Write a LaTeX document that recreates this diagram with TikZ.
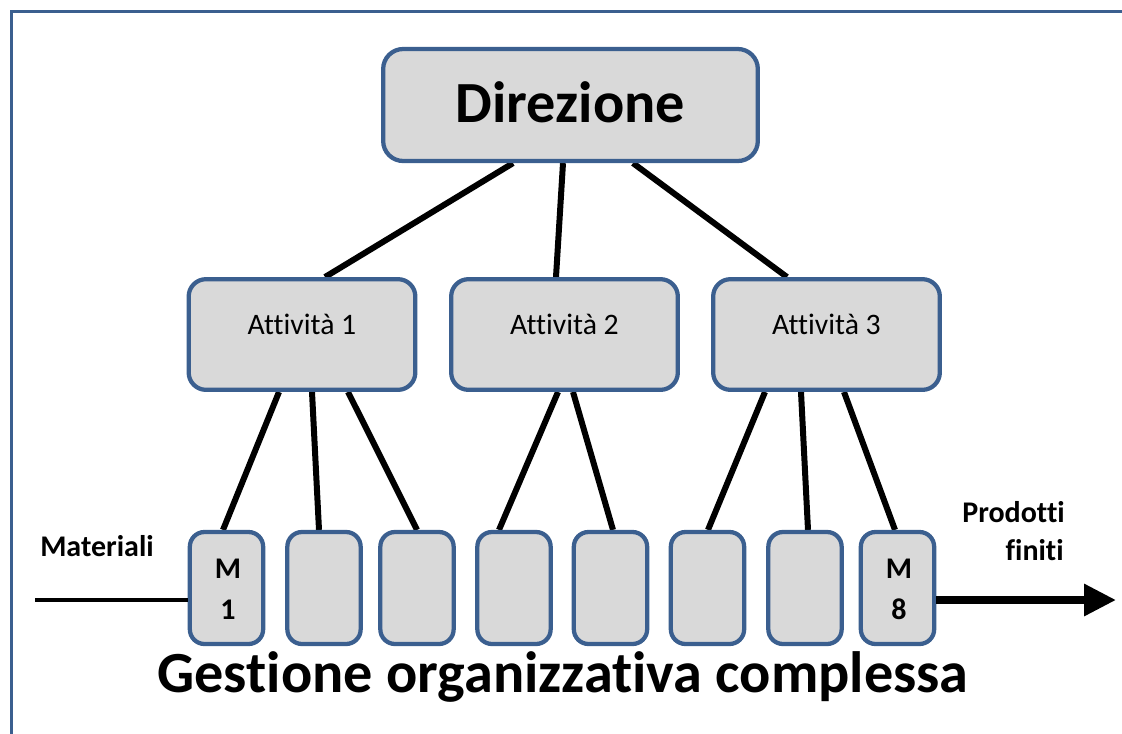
\documentclass[tikz,border=0pt]{standalone}
\usepackage{fontspec}
\setmainfont[Ligatures={NoCommon}]{Carlito}
\usetikzlibrary{calc,arrows.meta,backgrounds}

\definecolor{boxblue}{HTML}{3B5F8F}
\definecolor{boxgrey}{HTML}{D9D9D9}

\tikzset{
  unit/.style={rectangle, draw=boxblue, fill=boxgrey, line width=3.2pt, inner sep=0pt},
  topbox/.style={unit, rounded corners=15pt, minimum width=281pt, minimum height=84pt},
  midbox/.style={unit, rounded corners=13pt, minimum width=170pt, minimum height=83pt},
  cellbox/.style={unit, rounded corners=11pt, minimum width=55pt, minimum height=84pt},
  link/.style={black, line width=4.5pt},
  flowin/.style={black, line width=3pt},
  flowout/.style={black, line width=5.5pt, -{Triangle[length=24pt,width=23pt]}},
  txt/.style={inner sep=0pt, anchor=base},
  bigbold/.style={txt, font=\fontsize{43.7}{50}\selectfont\bfseries},
  midtext/.style={txt, font=\fontsize{22.3}{26}\selectfont},
  smallbold/.style={txt, font=\fontsize{22.5}{26}\selectfont\bfseries},
}

\begin{document}
\begin{tikzpicture}[x=0.75pt, y=-0.75pt]
  \useasboundingbox (0,0) rectangle (1122,733);
  \clip (0,0) rectangle (1122,733);

  % outer frame
  \draw[boxblue, line width=2.4pt] (11.5,760) -- (11.5,11.5) -- (1140,11.5);

  % boxes
  \node[topbox] (dir) at (570.5,105) {};
  \node[midbox] (a1) at (302,334.5) {};
  \node[midbox] (a2) at (564.5,334.5) {};
  \node[midbox] (a3) at (826.5,334.5) {};

  \foreach \n/\x in {1/226.5, 2/324, 3/417, 4/514, 5/610.5, 6/707.5, 7/805, 8/897.5}
    \node[cellbox] (b\n) at (\x,588) {};

  % connectors, behind the boxes
  \begin{scope}[on background layer]
    \draw[link] ($(dir.south)+(-57.5,0)$) -- ($(a1.north)+(23,0)$);
    \draw[link] ($(dir.south)+(-7.5,0)$)  -- ($(a2.north)+(-8.5,0)$);
    \draw[link] ($(dir.south)+(62.5,0)$)  -- ($(a3.north)+(-39.5,0)$);

    \draw[link] ($(a1.south)+(-23,0)$) -- ($(b1.north)+(-3.5,0)$);
    \draw[link] ($(a1.south)+(10,0)$)  -- ($(b2.north)+(-5,0)$);
    \draw[link] ($(a1.south)+(46,0)$)  -- ($(b3.north)+(0,0)$);

    \draw[link] ($(a2.south)+(-6.5,0)$) -- ($(b4.north)+(-15,0)$);
    \draw[link] ($(a2.south)+(8.5,0)$)  -- ($(b5.north)+(2.5,0)$);

    \draw[link] ($(a3.south)+(-61.5,0)$) -- ($(b6.north)+(0.5,0)$);
    \draw[link] ($(a3.south)+(-25.5,0)$) -- ($(b7.north)+(3,0)$);
    \draw[link] ($(a3.south)+(17.5,0)$)  -- ($(b8.north)+(-2.5,0)$);
  \end{scope}

  % material flow
  \coordinate (inlet) at (35,600);
  \coordinate (outlet) at (1116,600);
  \draw[flowin] (inlet) -- ($(b1.west)+(0,12)$);
  \draw[flowout] ($(b8.east)+(0,12)$) -- (outlet);

  % texts
  \node[bigbold] (tdir) at (570.5,122) {Direzione};
  \node[midtext] (ta1) at (302,334) {Attività 1};
  \node[midtext] (ta2) at (564.5,334) {Attività 2};
  \node[midtext] (ta3) at (826.5,334) {Attività 3};

  \node[smallbold] (m1a) at (228,578) {M};
  \node[smallbold] (m1b) at (228,619) {1};
  \node[smallbold] (m8a) at (899,578) {M};
  \node[smallbold] (m8b) at (899,619) {8};

  \node[smallbold] (tin) at (97,556) {Materiali};
  \node[smallbold, anchor=base east] (tout1) at (1065,522) {Prodotti};
  \node[smallbold, anchor=base east] (tout2) at (1064,560) {finiti};

  \node[bigbold] (title) at (563,692) {Gestione organizzativa complessa};
\end{tikzpicture}
\end{document}
